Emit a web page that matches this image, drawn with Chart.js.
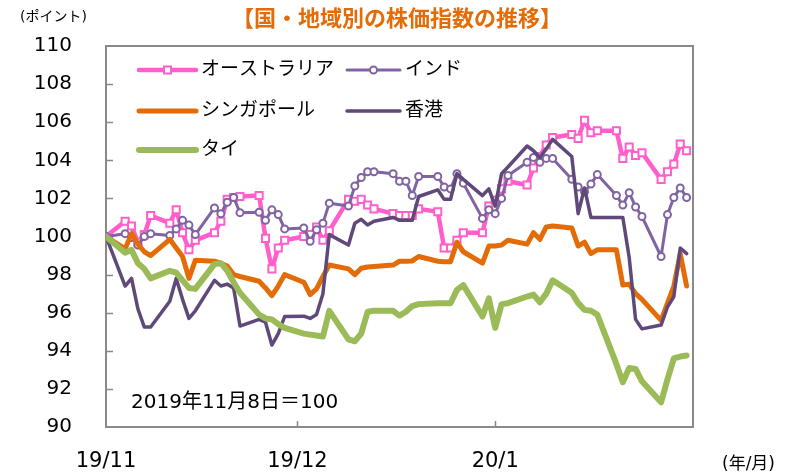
<!DOCTYPE html>
<html>
<head>
<meta charset="utf-8">
<script src="https://cdn.jsdelivr.net/npm/chart.js@4.4.1/dist/chart.umd.min.js"></script>
<style>
  html, body { margin: 0; padding: 0; background: #fff; }
  #wrap { width: 802px; height: 475px; }
</style>
</head>
<body>
<div id="wrap"><canvas id="chart" width="802" height="475"></canvas></div>
<script>
// days counted from 2019/11/8 (=100), trading days only
var days = [0, 3, 4, 5, 6, 7, 10, 11, 12, 13, 14, 17, 18, 19, 20, 21, 24, 25, 26, 27, 28,
    31, 32, 33, 34, 35, 38, 39, 40, 41, 42, 45, 46, 47, 48, 49, 52, 53, 54, 55, 56,
    59, 60, 61, 62, 63, 66, 67, 68, 69, 70, 73, 74, 75, 76, 77, 80, 81, 82, 83, 84,
    87, 88, 89, 90, 91];

var australia = [100, 100.8, 100.55, 99.7, 100.1, 101.1, 100.7, 101.4, 100.2, 99.3, 99.8,
    100.2, 100.8, 101.95, 102.05, 102.1, 102.15, 99.9, 98.3, 99.4, 99.8,
    100.0, 100.1, 100.5, 99.8, 100.3, 101.95, 101.85, 101.95, 101.65, 101.45,
    101.2, 101.1, 101.1, 101.1, 101.45, 101.3, 99.4, 99.4, 99.8, 100.2,
    100.2, 101.6, 101.9, 102.5, 102.9, 102.7, 103.6, 104.2, 104.8, 105.2,
    105.35, 105.15, 106.1, 105.45, 105.55, 105.55, 104.1, 104.7, 104.25, 104.4,
    103.0, 103.4, 103.8, 104.85, 104.5];

var india = [100, 100.15, 99.95, 99.55, 100.0, 100.15, 100.05, 100.4, 100.85, 100.6, 100.1,
    101.5, 101.2, 101.8, 102.05, 101.25, 101.27, 100.85, 101.4, 101.15, 100.4,
    100.45, 99.75, 100.35, 100.7, 101.75, 101.6, 102.65, 103.1, 103.4, 103.4,
    103.3, 102.9, 102.9, 102.15, 103.15, 103.15, 102.6, 102.5, 103.3, 102.8,
    100.95, 101.4, 101.2, 102.0, 103.2, 103.9, 104.15, 103.9, 104.1, 104.1,
    103.0, 102.6, 102.35, 102.75, 103.25, 102.15, 101.65, 102.3, 101.55, 101.05,
    98.95, 101.15, 102.05, 102.55, 102.05];

var singapore = [100, 99.35, 100.15, 99.6, 99.2, 99.0, 99.85, 99.4, 98.95, 97.8, 98.75,
    98.7, 98.6, 98.45, 98.0, 97.9, 97.65, 97.3, 96.9, 97.4, 98.0,
    97.6, 96.95, 97.25, 97.9, 98.5, 98.3, 98.0, 98.33, 98.4, 98.42,
    98.5, 98.7, 98.7, 98.72, 98.95, 98.7, 98.68, 98.68, 99.7, 99.2,
    98.6, 99.5, 99.5, 99.55, 99.8, 99.6, 100.2, 99.85, 100.5, 100.55,
    100.45, 99.5, 99.7, 99.1, 99.3, 99.3, 97.45, 97.5, 97.0, 96.7,
    95.6, 96.5, 97.4, 99.1, 97.4];

var hongkong = [100, 97.4, 97.8, 96.2, 95.25, 95.25, 96.6, 97.8, 96.7, 95.7, 96.1,
    97.7, 97.4, 97.5, 97.3, 95.3, 95.65, 95.5, 94.3, 94.9, 95.8,
    95.82, 95.7, 95.9, 97.0, 100.1, 99.55, 100.7, 100.9, 100.6, 100.8,
    101.0, 100.85, 100.85, 100.85, 102.1, 102.45, 101.95, 101.95, 103.3, 103.0,
    102.15, 102.5, 101.6, 103.3, 103.65, 104.75, 104.5, 104.15, 104.6, 105.1,
    104.2, 101.2, 102.55, 101.0, 101.0, 101.0, 101.0, 98.9, 95.65, 95.15,
    95.35, 96.3, 96.85, 99.4, 99.1];

var thailand = [100, 99.15, 99.3, 98.6, 98.3, 97.8, 98.2, 98.1, 97.7, 97.3, 97.25,
    98.55, 98.6, 98.2, 97.6, 97.05, 95.9, 95.7, 95.65, 95.4, 95.2,
    94.9, 94.85, 94.8, 94.75, 96.1, 94.6, 94.5, 94.9, 96.05, 96.1,
    96.1, 95.85, 96.05, 96.35, 96.45, 96.5, 96.5, 96.5, 97.2, 97.45,
    95.8, 96.75, 95.2, 96.45, 96.5, 96.85, 96.95, 96.55, 97.0, 97.7,
    97.05, 96.5, 96.15, 96.1, 95.9, 93.3, 92.35, 93.1, 93.05, 92.4,
    91.3, 92.5, 93.6, 93.7, 93.75];

var seriesNames = ['オーストラリア', 'インド', 'シンガポール', '香港', 'タイ'];
var tickDays = [0, 30, 61];
var tickLabels = ['19/11', '19/12', '20/1'];

var FONT = '"DejaVu Sans", "Noto Sans CJK JP", sans-serif';

function pts(values) {
    return values.map(function (v, i) { return { x: days[i], y: v }; });
}

var decor = {
    id: 'decor',
    beforeDatasetsDraw: function (chart) {
        var c = chart.ctx, a = chart.chartArea;
        var xs = chart.scales.x, ys = chart.scales.y;
        c.save();
        c.strokeStyle = '#898989';
        c.lineWidth = 2;
        c.strokeRect(a.left, a.top, a.right - a.left, a.bottom - a.top);
        c.lineWidth = 1.5;
        c.beginPath();
        for (var v = 92; v < 110; v += 2) {
            var py = Math.round(ys.getPixelForValue(v)) + 0.5;
            c.moveTo(a.left, py);
            c.lineTo(a.left + 7, py);
        }
        tickDays.slice(1).forEach(function (d) {
            var px = Math.round(xs.getPixelForValue(d)) + 0.5;
            c.moveTo(px, a.bottom);
            c.lineTo(px, a.bottom - 6);
        });
        c.stroke();
        c.restore();
    },
    afterDraw: function (chart) {
        var c = chart.ctx;
        c.save();
        c.textBaseline = 'middle';

        c.fillStyle = '#E36C09';
        c.textAlign = 'center';
        c.font = 'bold 22px "Noto Sans CJK JP", sans-serif';
        c.fillText('【国・地域別の株価指数の推移】', 397, 18);

        c.fillStyle = '#000';
        c.textAlign = 'left';
        c.font = '14px ' + FONT;
        c.fillText('(ポイント)', 20, 17);
        c.font = '17px ' + FONT;
        c.fillText('(年/月)', 722, 465);
        c.font = '20px ' + FONT;
        c.fillText('2019年11月8日＝100', 131, 403);

        // legend, two columns
        var slots = [[139, 70], [347, 70], [139, 111], [347, 111], [139, 150]];
        chart.data.datasets.forEach(function (ds, i) {
            var sx = slots[i][0], sy = slots[i][1];
            var len = i % 2 === 0 ? 57 : 53;
            c.strokeStyle = ds.borderColor;
            c.lineWidth = ds.borderWidth;
            c.lineCap = 'round';
            c.beginPath();
            c.moveTo(sx, sy);
            c.lineTo(sx + len, sy);
            c.stroke();
            if (ds.pointRadius > 0) {
                c.fillStyle = '#fff';
                c.lineWidth = ds.pointBorderWidth;
                var mx = sx + len / 2;
                if (ds.pointStyle === 'rect') {
                    c.fillRect(mx - 3.5, sy - 3.5, 7, 7);
                    c.strokeRect(mx - 3.5, sy - 3.5, 7, 7);
                } else {
                    c.beginPath();
                    c.arc(mx, sy, 3.5, 0, Math.PI * 2);
                    c.fill();
                    c.stroke();
                }
            }
            c.fillStyle = '#000';
            c.font = '19px ' + FONT;
            c.fillText(ds.label, sx + len + 5, sy);
        });
        c.restore();
    }
};

var ctx = document.getElementById('chart').getContext('2d');
var chart = new Chart(ctx, {
    type: 'line',
    data: {
        datasets: [{
            label: seriesNames[0], data: pts(australia), order: 5,
            borderColor: '#FF5FCB', borderWidth: 4.5,
            pointStyle: 'rect', pointRadius: 5, pointBorderWidth: 2,
            pointBackgroundColor: '#fff', pointBorderColor: '#FF5FCB'
        }, {
            label: seriesNames[1], data: pts(india), order: 4,
            borderColor: '#8064A2', borderWidth: 3,
            pointStyle: 'circle', pointRadius: 3.5, pointBorderWidth: 2,
            pointBackgroundColor: '#fff', pointBorderColor: '#8064A2'
        }, {
            label: seriesNames[2], data: pts(singapore), order: 3,
            borderColor: '#E36C09', borderWidth: 5, pointRadius: 0
        }, {
            label: seriesNames[3], data: pts(hongkong), order: 2,
            borderColor: '#5F497A', borderWidth: 3.5, pointRadius: 0
        }, {
            label: seriesNames[4], data: pts(thailand), order: 1,
            borderColor: '#9BBB59', borderWidth: 6, pointRadius: 0
        }]
    },
    options: {
        responsive: false,
        animation: false,
        devicePixelRatio: 1,
        datasets: { line: { tension: 0, borderJoinStyle: 'round', borderCapStyle: 'round' } },
        layout: { padding: { top: 42, right: 109, bottom: 0, left: 0 } },
        plugins: { legend: { display: false }, tooltip: { enabled: false }, title: { display: false } },
        scales: {
            x: {
                type: 'linear', min: 0, max: 92,
                afterBuildTicks: function (s) { s.ticks = tickDays.map(function (d) { return { value: d }; }); },
                afterFit: function (s) { s.height = 48; },
                ticks: {
                    autoSkip: false, maxRotation: 0, padding: 22, color: '#000',
                    font: { family: FONT, size: 21 },
                    callback: function (v) { return tickLabels[tickDays.indexOf(v)]; }
                },
                grid: { display: false, drawTicks: false },
                border: { display: false }
            },
            y: {
                min: 90, max: 110,
                afterFit: function (s) { s.width = 106; },
                ticks: { stepSize: 2, padding: 34, color: '#000', font: { family: FONT, size: 20 } },
                grid: { display: false, drawTicks: false },
                border: { display: false }
            }
        }
    },
    plugins: [decor]
});
</script>
</body>
</html>
